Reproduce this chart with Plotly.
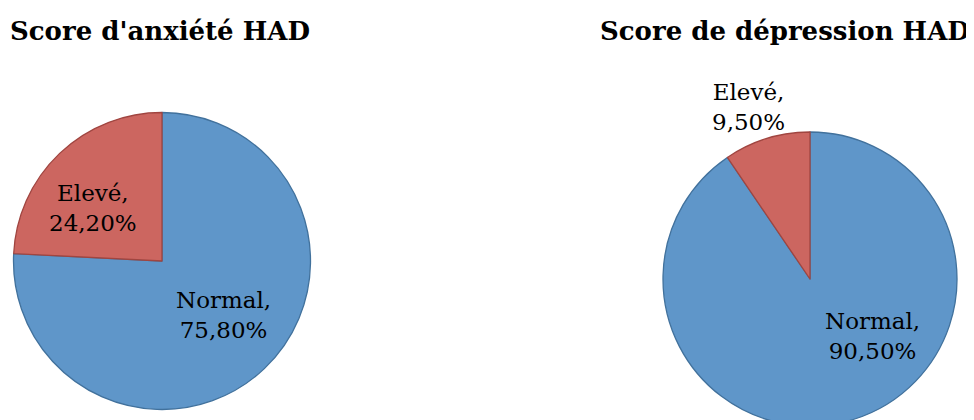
import plotly.graph_objects as go

categories = ["Normal", "Elevé"]
anxiete_values = [75.8, 24.2]
depression_values = [90.5, 9.5]
titles = ["Score d'anxiété HAD", "Score de dépression HAD"]

W, H = 974, 420
# the page body adds an 8px offset; positions below are in screen pixels
OX, OY = 8, 7
fill_colors = ["#5F96C9", "#CC6660"]
line_colors = ["#41719C", "#A04540"]
FONT = "DejaVu Serif"


def fmt(v):
    return f"{v:.2f}".replace(".", ",") + "%"


def px(x, y):
    return (x - OX) / W, 1 - (y - OY) / H


def dom(cx, cy, r):
    cx, cy = cx - OX, cy - OY
    return dict(x=[(cx - r) / W, (cx + r) / W],
                y=[max(0, (H - cy - r) / H), min(1, (H - cy + r) / H)])


fig = go.Figure()
for vals, (cx, cy, r) in [(anxiete_values, (162, 260, 148.5)),
                          (depression_values, (810, 278, 147))]:
    fig.add_trace(go.Pie(
        labels=categories, values=vals, sort=False, direction="clockwise",
        rotation=0, textinfo="none", hoverinfo="label+percent",
        marker=dict(colors=fill_colors, line=dict(color=line_colors, width=1.3)),
        domain=dom(cx, cy, r), showlegend=False,
    ))

annotations = []
for t, cx in zip(titles, [160, 785]):
    x, y = px(cx, 30)
    annotations.append(dict(text=f"<b>{t}</b>", x=x, y=y, xref="paper", yref="paper",
                            xanchor="center", yanchor="middle", showarrow=False,
                            font=dict(family=FONT, size=26, color="#000000")))

label_pos = [
    [(223, 314), (93, 207)],
    [(872, 335), (748, 106)],
]
for vals, poss in zip([anxiete_values, depression_values], label_pos):
    for cat, v, (lx, ly) in zip(categories, vals, poss):
        x, y = px(lx, ly)
        annotations.append(dict(text=f"{cat},<br>{fmt(v)}", x=x, y=y,
                                xref="paper", yref="paper", xanchor="center", yanchor="middle",
                                showarrow=False, align="center",
                                font=dict(family=FONT, size=23, color="#000000")))

fig.update_layout(width=W, height=H, margin=dict(l=0, r=0, t=0, b=0),
                  paper_bgcolor="white", plot_bgcolor="white",
                  annotations=annotations)
fig.write_html("out.html")
